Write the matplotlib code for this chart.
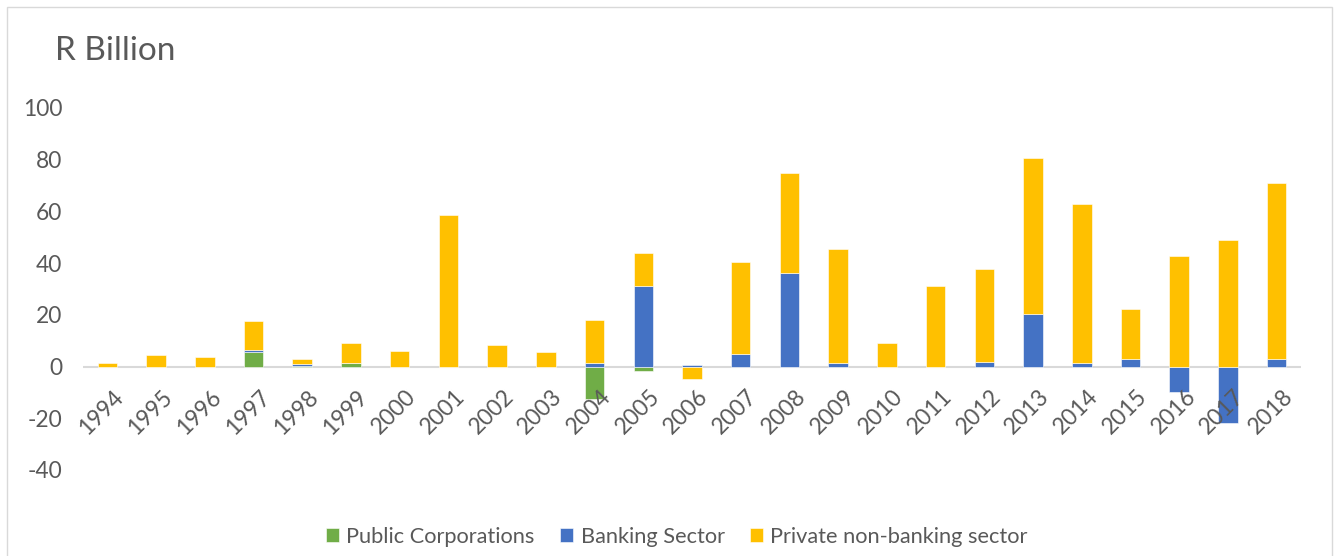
import numpy as np
import matplotlib
matplotlib.use("Agg")
import matplotlib.pyplot as plt
from matplotlib.patches import Rectangle

plt.rcParams['font.family'] = ['Lato', 'DejaVu Sans']

years = [str(y) for y in range(1994, 2019)]
public_corporations = [0, 0, 0, 5.8, 0.4, 1.2, 0, 0, 0, 0, -12.7, -1.8, 0, 0, 0, 0,
                       0, 0, 0, 0, 0, 0, 0, 0, 0]
banking_sector = [0, 0, 0, 0.8, 0.6, 0.2, 0, 0, 0, 0, 1.5, 31.3, 0.7, 4.8, 36.2, 1.2,
                  0, 0, 1.9, 20.2, 1.2, 3.1, -9.9, -22.0, 3.1]
private_non_banking = [1.4, 4.6, 3.6, 11.2, 2.1, 7.9, 6.0, 58.7, 8.2, 5.7, 16.5, 12.8,
                       -4.8, 35.6, 38.6, 44.4, 9.3, 31.3, 35.9, 60.4, 61.7, 19.0,
                       42.9, 48.9, 67.9]
series_names = ["Public Corporations", "Banking Sector", "Private non-banking sector"]
colors = ["#70AD47", "#4472C4", "#FFC000"]
yticks = [-40, -20, 0, 20, 40, 60, 80, 100]

fig = plt.figure(figsize=(13.4, 5.56), dpi=100)
ax = fig.add_axes([83 / 1340, 1 - 470 / 556, (1301 - 83) / 1340, (470 - 108) / 556])

x = np.arange(len(years))
pos_bottom = np.zeros(len(years))
neg_bottom = np.zeros(len(years))
handles = []
for name, vals, c in zip(series_names, [public_corporations, banking_sector, private_non_banking], colors):
    v = np.array(vals, dtype=float)
    bottom = np.where(v >= 0, pos_bottom, neg_bottom)
    h = ax.bar(x, v, width=0.4, bottom=bottom, color=c, edgecolor='white', linewidth=0.4,
               label=name, zorder=2)
    handles.append(h)
    pos_bottom = pos_bottom + np.where(v > 0, v, 0)
    neg_bottom = neg_bottom + np.where(v < 0, v, 0)

ax.set_xlim(-0.5, len(years) - 0.5)
ax.set_ylim(-40, 100)
ax.set_yticks(yticks)
ax.set_yticklabels([str(t) for t in yticks])
ax.tick_params(axis='y', length=0, labelsize=16.4, labelcolor='#595959', pad=15)
for s in ax.spines.values():
    s.set_visible(False)
ax.axhline(0, color='#D9D9D9', linewidth=1.5, zorder=1)
ax.set_xticks([])

# x labels next to the zero axis, rotated
for xi, lab in zip(x, years):
    ax.annotate(lab, xy=(xi, 0), xycoords='data', xytext=(4, -14), textcoords='offset points',
                rotation=45, rotation_mode='anchor', ha='right', va='top',
                fontsize=16.4, color='#595959', zorder=3)

fig.text(55 / 1340, 1 - 51 / 556, "R Billion", fontsize=24, color='#595959',
         ha='left', va='center')

fig.legend(handles=handles, labels=series_names, loc='center', bbox_to_anchor=(0.505, 1 - 537 / 556),
           ncol=3, frameon=False, fontsize=15.7, labelcolor='#595959',
           handlelength=0.6, handleheight=0.6, handletextpad=0.35, columnspacing=1.15)

fig.patches.append(Rectangle((7 / 1340, -0.1), (1332 - 7) / 1340, 1.1 - 7 / 556,
                             transform=fig.transFigure, fill=False,
                             edgecolor='#D9D9D9', linewidth=1.0))

fig.savefig("out.png", dpi=100)
